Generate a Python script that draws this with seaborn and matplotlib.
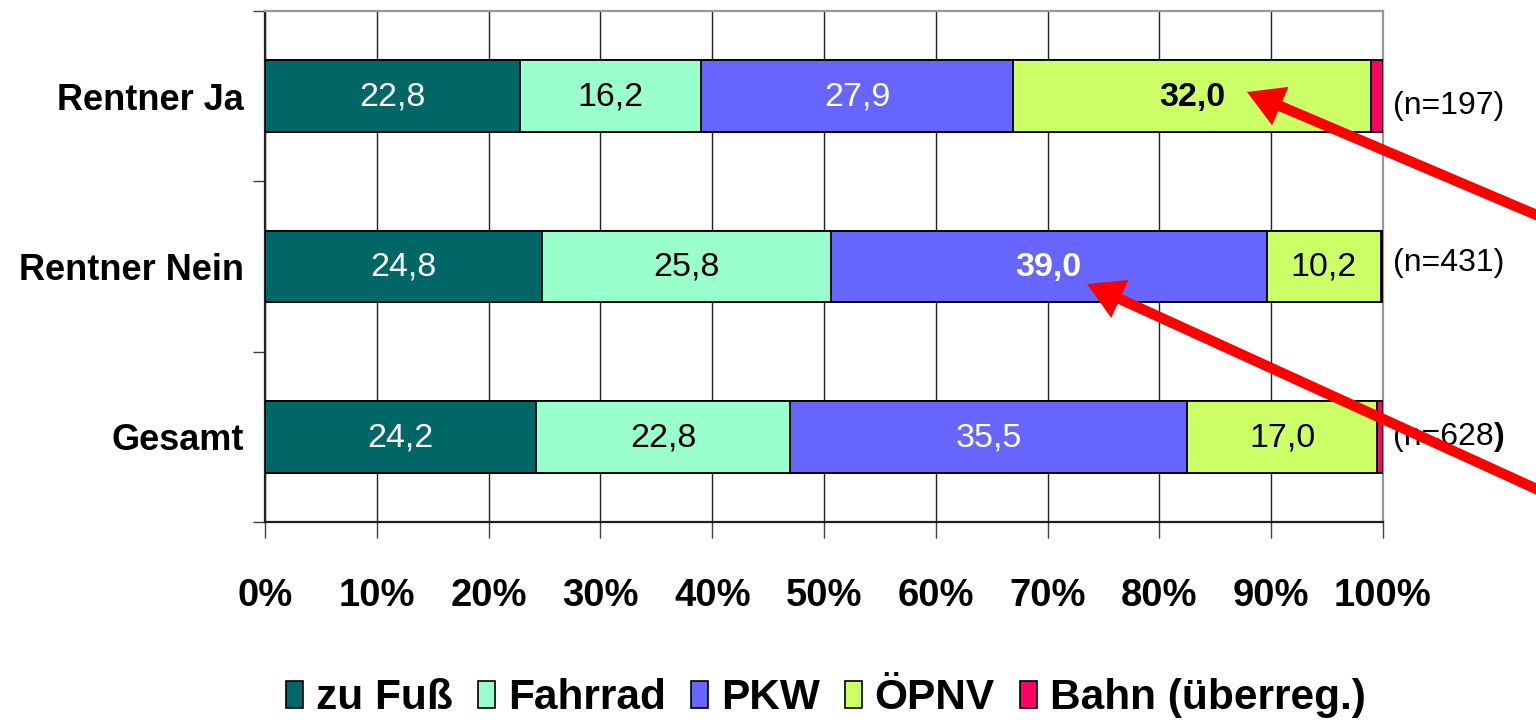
import matplotlib
matplotlib.use("Agg")
import matplotlib.pyplot as plt
import seaborn as sns
import numpy as np
from matplotlib.patches import Patch

categories = ["Rentner Ja", "Rentner Nein", "Gesamt"]
series_names = ["zu Fuß", "Fahrrad", "PKW", "ÖPNV", "Bahn (überreg.)"]
zu_fuss = [22.8, 24.8, 24.2]
fahrrad = [16.2, 25.8, 22.8]
pkw = [27.9, 39.0, 35.5]
oepnv = [32.0, 10.2, 17.0]
bahn = [1.1, 0.2, 0.5]
n_labels = ["(n=197)", "(n=431)", "(n=628"]
x_ticks = [0, 10, 20, 30, 40, 50, 60, 70, 80, 90, 100]
x_tick_labels = ["0%", "10%", "20%", "30%", "40%", "50%", "60%", "70%", "80%", "90%", "100%"]

colors = ["#006666", "#99FFCC", "#6666FF", "#CCFF66", "#FF0066"]
label_colors = ["white", "black", "white", "black", None]
bold_labels = {(0, 3), (1, 2)}  # (category index, series index)
n_offsets = [0.06, -0.02, 0.0]

sns.set_theme(style="white")
plt.rcParams["font.family"] = ["Liberation Sans", "DejaVu Sans"]
plt.rcParams["text.color"] = "black"
plt.rcParams["xtick.color"] = "black"
plt.rcParams["ytick.color"] = "black"
plt.rcParams["xtick.labelcolor"] = "black"
plt.rcParams["ytick.labelcolor"] = "black"

fig = plt.figure(figsize=(15.36, 7.25), dpi=100)
ax = fig.add_axes([265 / 1536, 1 - 522 / 725, (1383 - 265) / 1536, (522 - 11) / 725])

series = [zu_fuss, fahrrad, pkw, oepnv, bahn]
cum = np.cumsum(np.array(series), axis=0)

# draw cumulative bars from the largest to the smallest (stacked look)
for i in range(len(series) - 1, -1, -1):
    sns.barplot(x=cum[i], y=categories, orient="h", color=colors[i],
                saturation=1, edgecolor="black", linewidth=1.3,
                width=0.42, ax=ax, zorder=3)

# value labels
for ci in range(len(categories)):
    for si in range(4):
        val = series[si][ci]
        left = cum[si][ci] - val
        txt = f"{val:.1f}".replace(".", ",")
        ax.text(left + val / 2, ci + 0.005, txt, ha="center", va="center",
                fontsize=24.5, color=label_colors[si],
                fontweight="bold" if (ci, si) in bold_labels else "normal",
                zorder=5)
    t = ax.text(100.9, ci + n_offsets[ci], n_labels[ci], ha="left", va="center",
                fontsize=23, color="black", clip_on=False)
    if ci == 2:
        ax.annotate(")", xy=(1, 0.5), xycoords=t, ha="left", va="center",
                    fontsize=23, fontweight="bold", color="black")

ax.set_xlim(0, 100)
ax.set_ylim(2.5, -0.5)
ax.set_xticks(x_ticks)
ax.set_xticklabels(x_tick_labels, fontsize=27.5, fontweight="bold", color="black")
ax.set_yticks(range(len(categories)))
ax.set_yticklabels(categories, fontsize=26, fontweight="bold", color="black")
ax.set_yticks([-0.5, 0.5, 1.5, 2.5], minor=True)
ax.tick_params(axis="y", which="major", length=0, pad=15)
ax.tick_params(axis="y", which="minor", length=9, width=1, color="#404040", left=True)
ax.tick_params(axis="x", which="major", length=11.5, width=1, color="#404040",
               bottom=True, pad=29)
ax.set_xlabel("")
ax.set_ylabel("")

ax.set_axisbelow(True)
ax.grid(True, axis="x", color="#202020", linewidth=1.0)
ax.grid(False, axis="y")
for side in ["top", "right"]:
    ax.spines[side].set_color("#999999")
    ax.spines[side].set_linewidth(1.6)
for side in ["left", "bottom"]:
    ax.spines[side].set_color("#202020")
    ax.spines[side].set_linewidth(1.6)
    ax.spines[side].set_visible(True)

handles = [Patch(facecolor=c, edgecolor="black", linewidth=1.2) for c in colors]
fig.legend(handles, series_names, loc="center", bbox_to_anchor=(826 / 1536, 1 - 698 / 725),
           ncol=5, frameon=False, prop={"weight": "bold", "size": 30.5},
           handlelength=0.4, handleheight=0.6, handletextpad=0.3,
           columnspacing=0.6, borderaxespad=0, labelcolor="black")

# red arrows (annotation)
arrow_kw = dict(arrowstyle="simple,head_length=2.6,head_width=3.0,tail_width=0.75",
                facecolor="red", edgecolor="none", lw=0, shrinkA=0, shrinkB=0,
                mutation_scale=10)
ax.annotate("", xy=(1247, 725 - 92), xycoords="figure pixels",
            xytext=(1600, 725 - 242), textcoords="figure pixels",
            arrowprops=arrow_kw, annotation_clip=False, zorder=10)
ax.annotate("", xy=(1087, 725 - 284), xycoords="figure pixels",
            xytext=(1600, 725 - 518), textcoords="figure pixels",
            arrowprops=arrow_kw, annotation_clip=False, zorder=10)

fig.savefig("out.png", dpi=100)
